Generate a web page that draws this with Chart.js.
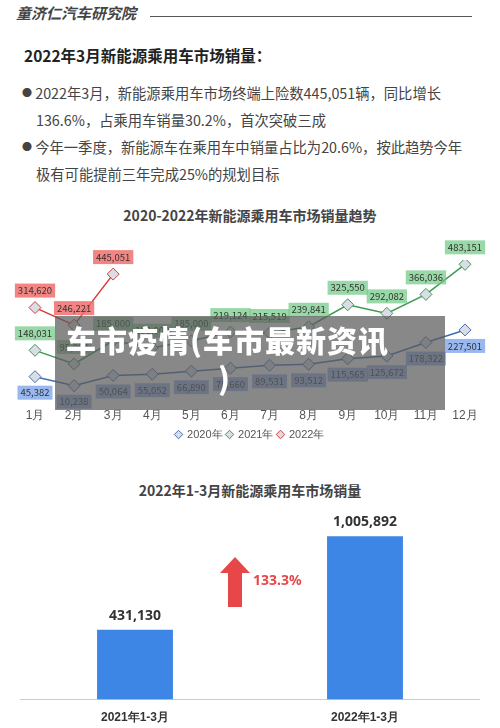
<!DOCTYPE html><html><head><meta charset="utf-8">
<script src="https://cdn.jsdelivr.net/npm/chart.js@4"></script>
<style>
body{margin:0;width:500px;height:728px;background:#fff;font-family:"Noto Sans CJK SC","Noto Sans",sans-serif;position:relative;overflow:hidden;color:#333}
.abs{position:absolute}
</style></head><body>
<div class="abs" style="left:16px;top:2px;font-size:15px;font-style:italic;font-weight:bold;color:#444">童济仁汽车研究院</div>
<div class="abs" style="left:150px;top:16px;width:322px;height:1px;background:#555"></div>
<div class="abs" style="left:24px;top:44px;font-size:15.5px;font-weight:bold;color:#222">2022年3月新能源乘用车市场销量：</div>
<div class="abs" style="left:22px;top:79px;width:470px;font-size:14.3px;line-height:27px;color:#444">
<div><span style="font-size:10px;vertical-align:2px">●</span> 2022年3月，新能源乘用车市场终端上险数445,051辆，同比增长</div>
<div style="padding-left:14px">136.6%，占乘用车销量30.2%，首次突破三成</div>
<div><span style="font-size:10px;vertical-align:2px">●</span> 今年一季度，新能源车在乘用车中销量占比为20.6%，按此趋势今年</div>
<div style="padding-left:14px">极有可能提前三年完成25%的规划目标</div></div>
<div class="abs" style="left:0;top:205px;width:500px;text-align:center;font-size:14px;font-weight:bold;color:#444">2020-2022年新能源乘用车市场销量趋势</div>
<div class="abs" style="left:10px;top:238px;width:485px;height:212px"><canvas id="c1"></canvas></div>
<div class="abs" style="left:0;top:480px;width:500px;text-align:center;font-size:14px;font-weight:bold;color:#444">2022年1-3月新能源乘用车市场销量</div>
<div class="abs" style="left:20px;top:500px;width:460px;height:228px"><canvas id="c2"></canvas></div>
<div class="abs" style="left:55px;top:316px;width:390px;height:94px;background:rgba(90,90,90,0.72)"></div>
<div class="abs" style="left:66px;top:320px;font-size:30px;font-weight:900;color:#fff;line-height:38px;letter-spacing:1px">车市疫情(车市最新资讯<br><span style="padding-left:152px">)</span></div>
<script>
const months=['1月','2月','3月','4月','5月','6月','7月','8月','9月','10月','11月','12月'];
const s2020=[45382,10238,50064,55052,66890,78660,89531,93512,115565,125672,178322,227501];
const s2021=[148031,95004,185000,158000,185000,219124,215519,239841,325550,292082,366036,483151];
const s2022=[314620,246221,445051];
const barCats=['2021年1-3月','2022年1-3月'];
const barVals=[431130,1005892];
const growth='133.3%';
const fmt=v=>v.toLocaleString('en-US');
const lblPlugin={id:'lbl',afterDatasetsDraw(ch){const c=ch.ctx;c.save();c.font='9.5px "Noto Sans CJK SC"';c.textAlign='center';c.textBaseline='middle';
ch.data.datasets.forEach((ds,i)=>{const m=ch.getDatasetMeta(i);m.data.forEach((p,j)=>{const t=fmt(ds.data[j]);const w=c.measureText(t).width+6;const below=i==0;const y=below?p.y+16:p.y-17;
c.fillStyle=ds.boxColor;c.fillRect(p.x-w/2,y-7,w,14);c.fillStyle='#333';c.fillText(t,p.x,y);});});c.restore();}};
const mk=(l,d,col,box)=>({label:l,data:d,borderColor:col,backgroundColor:'#d8dde6',pointStyle:'rectRot',pointRadius:6,pointBorderColor:col,pointBorderWidth:1,borderWidth:1.5,boxColor:box});
new Chart(document.getElementById('c1'),{type:'line',data:{labels:months,datasets:[mk('2020年',s2020,'#3f6fb5','rgba(120,160,235,0.75)'),mk('2021年',s2021,'#3d9a50','rgba(110,200,130,0.7)'),mk('2022年',s2022,'#d83a3a','rgba(240,110,110,0.85)')]},
options:{responsive:true,maintainAspectRatio:false,animation:false,layout:{padding:{top:22,left:25,right:30}},
scales:{y:{display:false,min:-40000,max:500000},x:{grid:{display:false},border:{display:false},ticks:{color:'#555',font:{size:12},padding:2}}},
plugins:{legend:{position:'bottom',labels:{usePointStyle:true,pointStyle:'rectRot',boxWidth:6,boxHeight:6,color:'#555',font:{size:11},padding:4}},tooltip:{enabled:false}}},plugins:[lblPlugin]});
const barPlugin={id:'bl',afterDatasetsDraw(ch){const c=ch.ctx;c.save();const m=ch.getDatasetMeta(0);c.font='bold 14px "Noto Sans"';c.textAlign='center';c.fillStyle='#333';
m.data.forEach((b,j)=>c.fillText(fmt(barVals[j]),b.x,b.y-10));
const x=(m.data[0].x+m.data[1].x)/2-15;const yT=57,yB=107;c.fillStyle='#e8474a';c.beginPath();c.moveTo(x,yT);c.lineTo(x+15,yT+16);c.lineTo(x+7,yT+16);c.lineTo(x+7,yB);c.lineTo(x-7,yB);c.lineTo(x-7,yT+16);c.lineTo(x-15,yT+16);c.closePath();c.fill();
c.font='bold 14px "Noto Sans"';c.textAlign='left';c.fillText(growth,x+18,yT+28);c.restore();}};
new Chart(document.getElementById('c2'),{type:'bar',data:{labels:barCats,datasets:[{data:barVals,backgroundColor:'#3d86e6',barPercentage:0.66,categoryPercentage:0.5}]},
options:{responsive:true,maintainAspectRatio:false,animation:false,scales:{y:{display:false,min:0,max:1230000},x:{grid:{display:false},border:{color:'#ccc'},ticks:{color:'#333',font:{size:12,weight:'bold'}}}},plugins:{legend:{display:false},tooltip:{enabled:false}}},plugins:[barPlugin]});
</script></body></html>
